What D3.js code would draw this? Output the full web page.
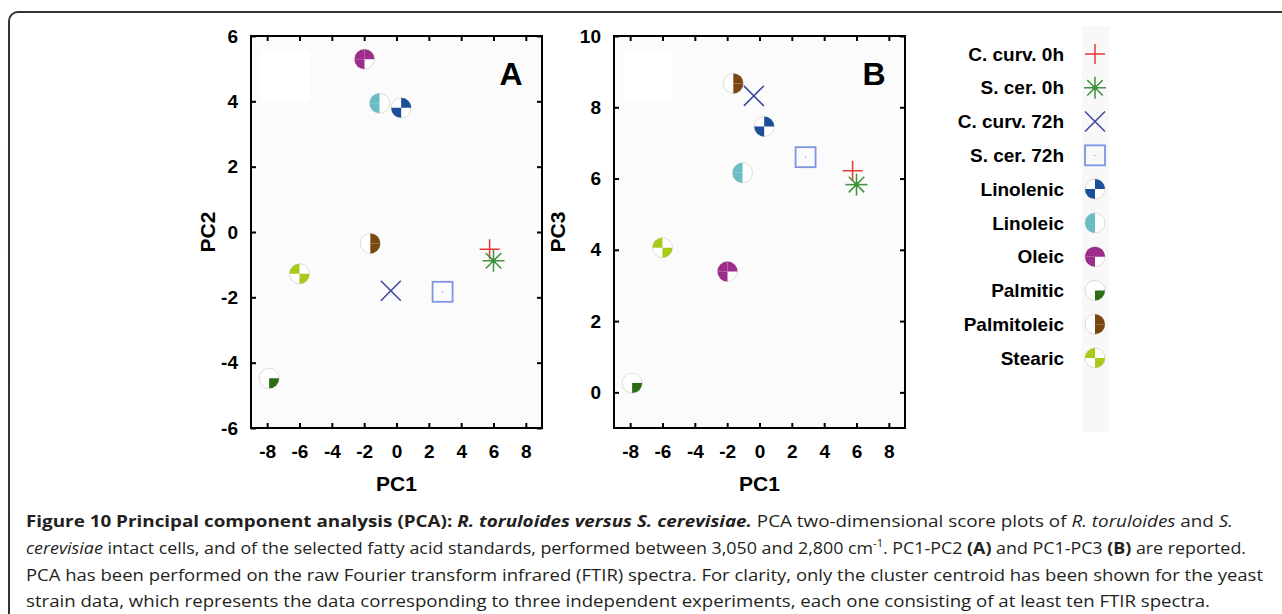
<!DOCTYPE html>
<html>
<head>
<meta charset="utf-8">
<script src="https://cdn.jsdelivr.net/npm/d3@7"></script>
<style>
  html, body { margin: 0; padding: 0; background: #fff; }
  svg { display: block; }
  .tick text, .axis-title, .legend-label, .panel-letter {
    font-family: "Liberation Sans", Arial, Helvetica, sans-serif;
    font-weight: bold;
    fill: #000;
  }
  .caption { font-family: "Open Sans", sans-serif; font-size: 16px; fill: #231f20; }
</style>
</head>
<body>
<svg width="1282" height="614"></svg>
<script>

// groups, in legend order
var groups = ["C. curv. 0h", "S. cer. 0h", "C. curv. 72h", "S. cer. 72h",
  "Linolenic", "Linoleic", "Oleic", "Palmitic", "Palmitoleic", "Stearic"];

// scores
var pc1 = [5.76, 6.0, -0.35, 2.85, 0.29, -1.05, -1.98, -7.88, -1.62, -6.0];
var pc2 = [-0.53, -0.88, -1.80, -1.83, 3.80, 3.94, 5.29, -4.48, -0.35, -1.28];
var pc3 = [6.22, 5.83, 8.32, 6.60, 7.46, 6.16, 3.39, 0.26, 8.67, 4.06];

var xTicks = [-8, -6, -4, -2, 0, 2, 4, 6, 8];
var pc2Ticks = [-6, -4, -2, 0, 2, 4, 6];
var pc3Ticks = [0, 2, 4, 6, 8, 10];

// marker look for every group (quads: 0 = top right, 1 = bottom right, 2 = bottom left, 3 = top left)
var markers = {
  "C. curv. 0h":  {type: "plus",   color: "#e53935"},
  "S. cer. 0h":   {type: "star",   color: "#3f923c"},
  "C. curv. 72h": {type: "cross",  color: "#3f4b9f"},
  "S. cer. 72h":  {type: "square", color: "#7d95e2"},
  "Linolenic":    {type: "pie", color: "#1b4f9a", quads: [0, 2]},
  "Linoleic":     {type: "pie", color: "#6abdc3", quads: [2, 3]},
  "Oleic":        {type: "pie", color: "#9c2d8b", quads: [0, 2, 3]},
  "Palmitic":     {type: "pie", color: "#2d6d15", quads: [1]},
  "Palmitoleic":  {type: "pie", color: "#7a4612", quads: [0, 1]},
  "Stearic":      {type: "pie", color: "#a8cb1a", quads: [1, 3]}
};

var captionLines = [
  [["Figure 10 Principal component analysis (PCA): ", "b"], ["R. toruloides versus S. cerevisiae.", "bi"],
   [" PCA two-dimensional score plots of ", ""], ["R. toruloides", "i"], [" and ", ""], ["S.", "i"]],
  [["cerevisiae", "i"], [" intact cells, and of the selected fatty acid standards, performed between 3,050 and 2,800 cm", ""],
   ["-1", "sup"], [". PC1-PC2 ", ""], ["(A)", "b"], [" and PC1-PC3 ", ""], ["(B)", "b"], [" are reported.", ""]],
  [["PCA has been performed on the raw Fourier transform infrared (FTIR) spectra. For clarity, only the cluster centroid has been shown for the yeast", ""]],
  [["strain data, which represents the data corresponding to three independent experiments, each one consisting of at least ten FTIR spectra.", ""]]
];

window.onload = () => {

  var svg = d3.select("svg");

  //###############################################
  // frame round the figure
  //###############################################

  svg.append("rect")
      .attr("x", 9).attr("y", 12)
      .attr("width", 1320).attr("height", 640)
      .attr("rx", 9)
      .attr("fill", "none")
      .attr("stroke", "#333")
      .attr("stroke-width", 2);

  //###############################################
  // markers
  //###############################################

  var arc = d3.arc().innerRadius(0).outerRadius(10);

  function drawMarker(g, name) {
    var m = markers[name];
    if (m.type == "plus") {
      g.append("path").attr("d", "M-10,0H10M0,-10V10")
        .attr("stroke", m.color).attr("stroke-width", 1.5).attr("fill", "none");
    } else if (m.type == "star") {
      [0, 45, 90, 135].forEach(function(a) {
        g.append("line")
          .attr("x1", -11).attr("x2", 11).attr("y1", 0).attr("y2", 0)
          .attr("transform", "rotate(" + a + ")")
          .attr("stroke", m.color).attr("stroke-width", 1.5);
      });
      g.append("circle").attr("r", 2.5).attr("fill", m.color);
    } else if (m.type == "cross") {
      g.append("path").attr("d", "M-10,-10L10,10M-10,10L10,-10")
        .attr("stroke", m.color).attr("stroke-width", 1.6).attr("fill", "none");
    } else if (m.type == "square") {
      g.append("rect").attr("x", -10).attr("y", -10).attr("width", 20).attr("height", 20)
        .attr("fill", "none").attr("stroke", m.color).attr("stroke-width", 1.8);
      g.append("circle").attr("r", 0.7).attr("fill", m.color);
    } else {
      g.append("circle").attr("r", 10)
        .attr("fill", "#fff").attr("stroke", "#dedcd2").attr("stroke-width", 1);
      g.selectAll("path.q")
        .data(m.quads)
        .enter().append("path")
          .attr("class", "q")
          .attr("d", function(q) {
            return arc({startAngle: q * Math.PI / 2, endAngle: (q + 1) * Math.PI / 2});
          })
          .attr("fill", m.color);
    }
  }

  //###############################################
  // panels
  //###############################################

  function drawPanel(p) {
    var x = d3.scaleLinear().domain([-9, 9]).range([p.left, p.right]);
    var y = d3.scaleLinear().domain(p.yDomain).range([p.bottom, p.top]);

    var g = svg.append("g");

    g.append("rect")
        .attr("x", p.left).attr("y", p.top)
        .attr("width", p.right - p.left).attr("height", p.bottom - p.top)
        .attr("fill", "#fbfbfb");

    // faint key box left over in the corner
    g.append("rect")
        .attr("x", p.left + 9).attr("y", p.top + 15)
        .attr("width", 50).attr("height", 50)
        .attr("fill", "#ffffff");

    g.append("g")
        .attr("transform", "translate(0," + p.bottom + ")")
        .call(d3.axisBottom(x).tickValues(xTicks).tickSize(-5).tickPadding(17)
          .tickFormat(function(d) { return String(d).replace("\u2212", "-"); }));
    g.append("g")
        .attr("transform", "translate(0," + p.top + ")")
        .call(d3.axisTop(x).tickValues(xTicks).tickSize(-5).tickFormat(""));
    g.append("g")
        .attr("transform", "translate(" + p.left + ",0)")
        .call(d3.axisLeft(y).tickValues(p.yTicks).tickSize(-5).tickPadding(13)
          .tickFormat(function(d) { return String(d).replace("\u2212", "-"); }));
    g.append("g")
        .attr("transform", "translate(" + p.right + ",0)")
        .call(d3.axisRight(y).tickValues(p.yTicks).tickSize(-5).tickFormat(""));

    g.selectAll(".domain").remove();
    g.selectAll(".tick line").attr("stroke", "#000").attr("stroke-width", 2);
    g.selectAll(".tick text").attr("font-size", 19).attr("fill", "#000");

    g.append("rect")
        .attr("x", p.left).attr("y", p.top)
        .attr("width", p.right - p.left).attr("height", p.bottom - p.top)
        .attr("fill", "none")
        .attr("stroke", "#000")
        .attr("stroke-width", 2);

    g.append("text")
        .attr("class", "axis-title")
        .attr("x", (p.left + p.right) / 2).attr("y", 491)
        .attr("text-anchor", "middle")
        .attr("font-size", 21)
        .text("PC1");

    g.append("text")
        .attr("class", "axis-title")
        .attr("transform", "translate(" + p.titleX + "," + (p.top + p.bottom) / 2 + ") rotate(-90)")
        .attr("text-anchor", "middle")
        .attr("font-size", 21)
        .text(p.yTitle);

    g.append("text")
        .attr("class", "panel-letter")
        .attr("x", p.right - 31).attr("y", 85)
        .attr("text-anchor", "middle")
        .attr("font-size", 32)
        .text(p.letter);

    g.selectAll("g.pt")
      .data(groups)
      .enter().append("g")
        .attr("class", "pt")
        .attr("transform", function(d, i) {
          return "translate(" + x(pc1[i]) + "," + y(p.yValues[i]) + ")";
        })
        .each(function(d) { drawMarker(d3.select(this), d); });
  }

  drawPanel({left: 251, right: 542, top: 36, bottom: 428, yDomain: [-6, 6], yTicks: pc2Ticks,
    yValues: pc2, yTitle: "PC2", titleX: 215, letter: "A"});
  drawPanel({left: 614, right: 905, top: 36, bottom: 428, yDomain: [-1, 10], yTicks: pc3Ticks,
    yValues: pc3, yTitle: "PC3", titleX: 565, letter: "B"});

  //###############################################
  // legend
  //###############################################

  svg.append("rect")
      .attr("x", 1082).attr("y", 26)
      .attr("width", 27).attr("height", 406)
      .attr("fill", "#f8f8f8");

  var row = d3.scalePoint().domain(groups).range([54, 358]);

  var item = svg.append("g").selectAll("g")
    .data(groups)
    .enter().append("g")
      .attr("transform", function(d) { return "translate(0," + row(d) + ")"; });

  item.append("text")
      .attr("class", "legend-label")
      .attr("x", 1064).attr("dy", "0.35em")
      .attr("text-anchor", "end")
      .attr("font-size", 19)
      .text(function(d) { return d; });

  item.append("g")
      .attr("transform", "translate(1095,0)")
      .each(function(d) { drawMarker(d3.select(this), d); });

  //###############################################
  // caption
  //###############################################

  var lineY = [527, 554, 581, 607];
  var lineW = [1207, 1220, 1237, 1184];

  captionLines.forEach(function(segs, i) {
    var t = svg.append("text")
        .attr("class", "caption")
        .attr("x", 26).attr("y", lineY[i])
        .attr("textLength", lineW[i])
        .attr("lengthAdjust", "spacingAndGlyphs");
    segs.forEach(function(s) {
      var ts = t.append("tspan").text(s[0]);
      if (s[1].indexOf("b") >= 0) ts.attr("font-weight", "bold");
      if (s[1].indexOf("i") >= 0) ts.attr("font-style", "italic");
      if (s[1] == "sup") ts.attr("font-size", 10).attr("baseline-shift", "super");
    });
  });

}
</script>
</body>
</html>
